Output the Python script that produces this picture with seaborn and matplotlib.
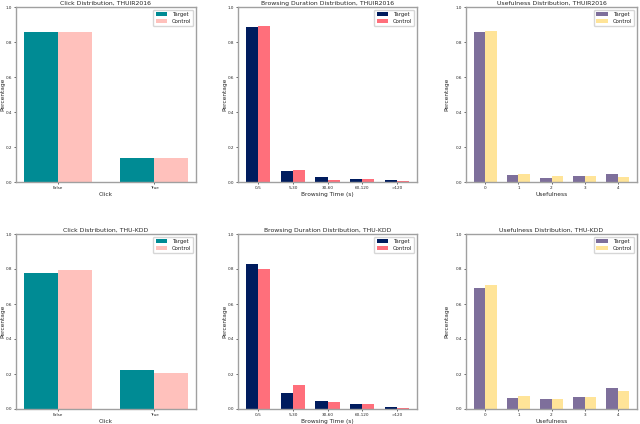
import matplotlib
matplotlib.use("Agg")
import matplotlib.pyplot as plt
import seaborn as sns
import pandas as pd

sns.set_style("white")
plt.rcParams['font.family'] = ['DejaVu Sans']

groups = ["Target", "Control"]

click_cats = ["False", "True"]
click_thuir_target = [0.86, 0.14]
click_thuir_control = [0.86, 0.14]
click_kdd_target = [0.775, 0.225]
click_kdd_control = [0.795, 0.205]

browse_cats = ["0-5", "5-30", "30-60", "60-120", ">120"]
browse_thuir_target = [0.886, 0.065, 0.027, 0.015, 0.010]
browse_thuir_control = [0.891, 0.067, 0.013, 0.017, 0.008]
browse_kdd_target = [0.828, 0.094, 0.046, 0.029, 0.011]
browse_kdd_control = [0.801, 0.136, 0.038, 0.027, 0.004]

useful_cats = ["0", "1", "2", "3", "4"]
useful_thuir_target = [0.859, 0.040, 0.023, 0.032, 0.046]
useful_thuir_control = [0.861, 0.046, 0.032, 0.034, 0.027]
useful_kdd_target = [0.692, 0.063, 0.059, 0.067, 0.122]
useful_kdd_control = [0.709, 0.073, 0.059, 0.067, 0.103]

click_colors = ["#008b94", "#ffc1bc"]
browse_colors = ["#001c5e", "#ff6f7b"]
useful_colors = ["#7e6f9b", "#ffe498"]

panels = [
    ("Click Distribution, THUIR2016", "Click", click_cats, click_thuir_target, click_thuir_control, click_colors),
    ("Browsing Duration Distribution, THUIR2016", "Browsing Time (s)", browse_cats, browse_thuir_target, browse_thuir_control, browse_colors),
    ("Usefulness Distribution, THUIR2016", "Usefulness", useful_cats, useful_thuir_target, useful_thuir_control, useful_colors),
    ("Click Distribution, THU-KDD", "Click", click_cats, click_kdd_target, click_kdd_control, click_colors),
    ("Browsing Duration Distribution, THU-KDD", "Browsing Time (s)", browse_cats, browse_kdd_target, browse_kdd_control, browse_colors),
    ("Usefulness Distribution, THU-KDD", "Usefulness", useful_cats, useful_kdd_target, useful_kdd_control, useful_colors),
]

W, H = 640, 424
fig = plt.figure(figsize=(6.4, 4.24), dpi=100)
xs = [(16, 196), (238, 417), (466, 637)]
ys = [(7, 182), (234, 409)]
ylabel_x = [-0.057, -0.062, -0.1]

for i, (title, xlabel, cats, tv, cv, cols) in enumerate(panels):
    r, c = divmod(i, 3)
    x0, x1 = xs[c]
    y0, y1 = ys[r]
    ax = fig.add_axes([x0 / W, 1 - y1 / H, (x1 - x0) / W, (y1 - y0) / H])
    df = pd.DataFrame({
        "cat": cats * 2,
        "val": list(tv) + list(cv),
        "group": [groups[0]] * len(cats) + [groups[1]] * len(cats),
    })
    sns.barplot(data=df, x="cat", y="val", hue="group", palette=cols,
                width=0.7, gap=0, ax=ax, saturation=1, errorbar=None,
                linewidth=0, edgecolor="none")
    n = len(cats)
    span = (n - 1) + 0.7
    ax.set_xlim(-0.35 - 0.05 * span, n - 1 + 0.35 + 0.05 * span)
    ax.set_ylim(0, 1.0)
    ax.set_yticks([0.0, 0.2, 0.4, 0.6, 0.8, 1.0])
    ax.set_title(title, fontsize=4.4, pad=1.5)
    ax.set_xlabel(xlabel, fontsize=4.2, labelpad=1.5)
    ax.set_ylabel("Percentage", fontsize=4.2)
    ax.yaxis.set_label_coords(ylabel_x[c], 0.5)
    ax.tick_params(axis="both", labelsize=3.0, length=1.5, width=0.5, pad=1.5, left=True, bottom=True)
    for s in ax.spines.values():
        s.set_color("#a0a0a0")
        s.set_linewidth(1.0)
    leg = ax.legend(loc="upper right", fontsize=3.9, frameon=True, handlelength=2.2,
                    borderpad=0.4, labelspacing=0.35, handletextpad=0.8)
    leg.set_title(None)

fig.savefig("out.png", dpi=100)
